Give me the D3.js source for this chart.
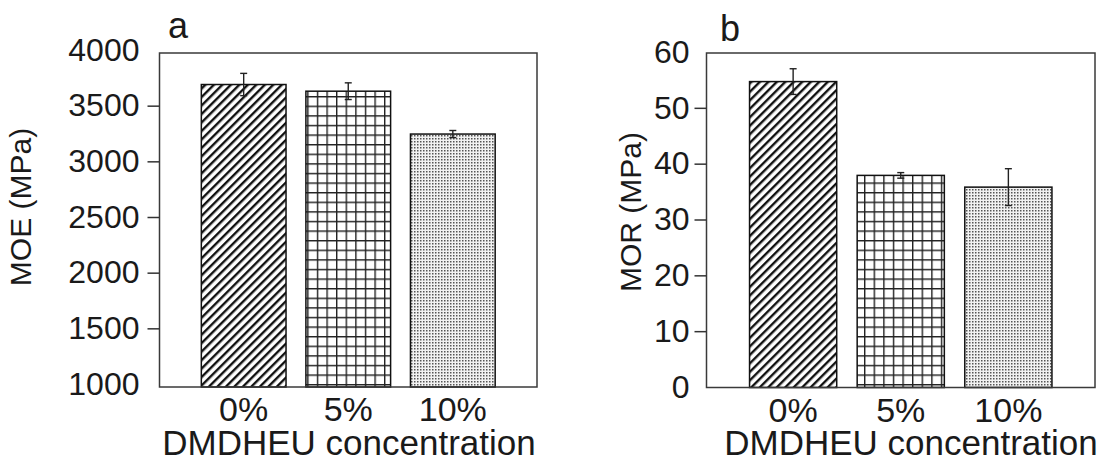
<!DOCTYPE html>
<html>
<head>
<meta charset="utf-8">
<script src="https://cdn.jsdelivr.net/npm/d3@7"></script>
<style>
  body { margin: 0; background: #fff; }
  text { font-family: "Liberation Sans", Arial, sans-serif; fill: #1a1a1a; }
</style>
</head>
<body>
<script>
(function() {

  var categories = ["0%", "5%", "10%"];
  var moeValues = [3690, 3630, 3245];
  var moeErrors = [100, 75, 32];
  var moeTicks = [1000, 1500, 2000, 2500, 3000, 3500, 4000];
  var morValues = [54.7, 37.9, 35.8];
  var morErrors = [2.3, 0.5, 3.3];
  var morTicks = [0, 10, 20, 30, 40, 50, 60];
  var fills = ["url(#hatch)", "url(#grid)", "url(#dots)"];

  var svg = d3.select("body").append("svg")
    .attr("width", 1099).attr("height", 458);

  var defs = svg.append("defs");

  // diagonal hatch for 0%
  defs.append("pattern").attr("id", "hatch")
    .attr("patternUnits", "userSpaceOnUse")
    .attr("width", 6).attr("height", 6)
    .attr("patternTransform", "rotate(45)")
    .append("rect").attr("x", 0).attr("y", 0)
    .attr("width", 2.4).attr("height", 6).attr("fill", "#111");

  // square grid for 5%
  var grid = defs.append("pattern").attr("id", "grid")
    .attr("patternUnits", "userSpaceOnUse")
    .attr("width", 9.6).attr("height", 9.6);
  grid.append("rect").attr("width", 9.6).attr("height", 9.6).attr("fill", "#fff");
  grid.append("path").attr("d", "M0.7,0V9.6M0,0.7H9.6")
    .attr("stroke", "#222").attr("stroke-width", 1.4);

  // fine stipple for 10%
  var dots = defs.append("pattern").attr("id", "dots")
    .attr("patternUnits", "userSpaceOnUse")
    .attr("width", 3).attr("height", 3);
  dots.append("rect").attr("width", 3).attr("height", 3).attr("fill", "#f2f2f2");
  dots.append("rect").attr("width", 1.5).attr("height", 1.5).attr("fill", "#555");

  function drawPanel(opt) {
    var g = svg.append("g");
    var x = d3.scaleBand().domain(categories)
      .range([opt.left, opt.right])
      .paddingInner(0.19).paddingOuter(0.4);
    var y = d3.scaleLinear().domain(opt.domain).range(opt.range);
    var rows = categories.map(function(c, i) {
      return { cat: c, value: opt.values[i], err: opt.errors[i], fill: fills[i] };
    });

    g.selectAll("rect.bar").data(rows).enter().append("rect")
      .attr("class", "bar")
      .attr("x", function(d) { return x(d.cat); })
      .attr("y", function(d) { return y(d.value); })
      .attr("width", x.bandwidth())
      .attr("height", function(d) { return opt.bottom - y(d.value); })
      .attr("fill", function(d) { return d.fill; })
      .attr("stroke", "#111").attr("stroke-width", 1.5);

    var err = g.selectAll("g.err").data(rows).enter().append("g")
      .attr("class", "err")
      .attr("transform", function(d) { return "translate(" + (x(d.cat) + x.bandwidth() / 2) + ",0)"; })
      .attr("stroke", "#222").attr("stroke-width", 1.4);
    err.append("line")
      .attr("y1", function(d) { return y(d.value - d.err); })
      .attr("y2", function(d) { return y(d.value + d.err); });
    err.append("line").attr("x1", -3.5).attr("x2", 3.5)
      .attr("y1", function(d) { return y(d.value + d.err); })
      .attr("y2", function(d) { return y(d.value + d.err); });
    err.append("line").attr("x1", -3.5).attr("x2", 3.5)
      .attr("y1", function(d) { return y(d.value - d.err); })
      .attr("y2", function(d) { return y(d.value - d.err); });

    // frame
    g.append("rect")
      .attr("x", opt.left).attr("y", opt.top)
      .attr("width", opt.right - opt.left).attr("height", opt.bottom - opt.top)
      .attr("fill", "none").attr("stroke", "#3a3a3a").attr("stroke-width", 1.5);

    var yAxis = g.append("g")
      .attr("transform", "translate(" + opt.left + ",0)")
      .call(d3.axisLeft(y).tickValues(opt.ticks).tickFormat(d3.format("d"))
        .tickSize(12).tickPadding(opt.pad));
    yAxis.select(".domain").remove();
    yAxis.selectAll(".tick line").attr("stroke", "#333").attr("stroke-width", 1.5)
      .filter(function(d, i) { return i === 0 || i === opt.ticks.length - 1; }).remove();
    yAxis.selectAll(".tick text").attr("font-size", 32).attr("fill", "#1a1a1a")
      .attr("font-family", "Liberation Sans, Arial, sans-serif");

    var xAxis = g.append("g")
      .attr("transform", "translate(0," + opt.bottom + ")")
      .call(d3.axisBottom(x).tickSize(0).tickPadding(10));
    xAxis.select(".domain").remove();
    xAxis.selectAll(".tick text").attr("font-size", 34).attr("fill", "#1a1a1a")
      .attr("font-family", "Liberation Sans, Arial, sans-serif");

    g.append("text")
      .attr("x", opt.titleX).attr("y", 455)
      .attr("text-anchor", "middle").attr("font-size", 35)
      .text("DMDHEU concentration");

    g.append("text")
      .attr("transform", "translate(" + opt.labelX + "," + opt.labelY + ") rotate(-90)")
      .attr("text-anchor", "middle").attr("font-size", 30)
      .text(opt.label);

    g.append("text")
      .attr("x", opt.letterX).attr("y", opt.letterY)
      .attr("font-size", 36)
      .text(opt.letter);
  }

  drawPanel({
    left: 159.5, right: 537, top: 53, bottom: 387,
    domain: [1000, 4000], range: [384, 50],
    values: moeValues, errors: moeErrors, ticks: moeTicks, pad: 8,
    label: "MOE (MPa)", labelX: 31, labelY: 207,
    titleX: 349, letter: "a", letterX: 168, letterY: 38
  });

  drawPanel({
    left: 706.5, right: 1095, top: 53, bottom: 387.5,
    domain: [0, 60], range: [387, 52],
    values: morValues, errors: morErrors, ticks: morTicks, pad: 5,
    label: "MOR (MPa)", labelX: 641, labelY: 212,
    titleX: 911, letter: "b", letterX: 720, letterY: 41
  });

}).call(this);
</script>
</body>
</html>
